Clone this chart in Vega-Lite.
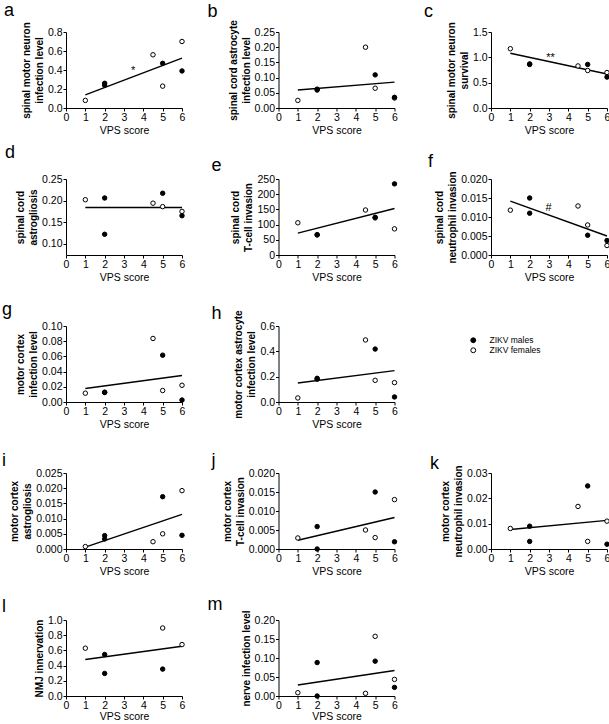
{
  "$schema": "https://vega.github.io/schema/vega-lite/v6.json",
  "padding": {"left": 2, "top": 1, "right": 0, "bottom": 0},
  "background": "white",
  "columns": 3,
  "spacing": {"row": 71, "column": 96.5},
  "bounds": "flush",
  "resolve": {"scale": {"fill": "independent"}, "legend": {"fill": "independent"}},
  "datasets": {
    "pts": [
      {"panel": "a", "vps": 1, "value": 0.08, "sex": "ZIKV females"},
      {"panel": "a", "vps": 4.5, "value": 0.56, "sex": "ZIKV females"},
      {"panel": "a", "vps": 5, "value": 0.23, "sex": "ZIKV females"},
      {"panel": "a", "vps": 6, "value": 0.70, "sex": "ZIKV females"},
      {"panel": "a", "vps": 2, "value": 0.26, "sex": "ZIKV males"},
      {"panel": "a", "vps": 2, "value": 0.24, "sex": "ZIKV males"},
      {"panel": "a", "vps": 5, "value": 0.47, "sex": "ZIKV males"},
      {"panel": "a", "vps": 6, "value": 0.39, "sex": "ZIKV males"},
      {"panel": "b", "vps": 1, "value": 0.025, "sex": "ZIKV females"},
      {"panel": "b", "vps": 4.5, "value": 0.20, "sex": "ZIKV females"},
      {"panel": "b", "vps": 5, "value": 0.065, "sex": "ZIKV females"},
      {"panel": "b", "vps": 6, "value": 0.033, "sex": "ZIKV females"},
      {"panel": "b", "vps": 2, "value": 0.062, "sex": "ZIKV males"},
      {"panel": "b", "vps": 2, "value": 0.059, "sex": "ZIKV males"},
      {"panel": "b", "vps": 5, "value": 0.109, "sex": "ZIKV males"},
      {"panel": "b", "vps": 6, "value": 0.035, "sex": "ZIKV males"},
      {"panel": "c", "vps": 1, "value": 1.17, "sex": "ZIKV females"},
      {"panel": "c", "vps": 4.5, "value": 0.83, "sex": "ZIKV females"},
      {"panel": "c", "vps": 5, "value": 0.74, "sex": "ZIKV females"},
      {"panel": "c", "vps": 6, "value": 0.70, "sex": "ZIKV females"},
      {"panel": "c", "vps": 2, "value": 0.87, "sex": "ZIKV males"},
      {"panel": "c", "vps": 2, "value": 0.86, "sex": "ZIKV males"},
      {"panel": "c", "vps": 5, "value": 0.86, "sex": "ZIKV males"},
      {"panel": "c", "vps": 6, "value": 0.61, "sex": "ZIKV males"},
      {"panel": "d", "vps": 1, "value": 0.202, "sex": "ZIKV females"},
      {"panel": "d", "vps": 4.5, "value": 0.194, "sex": "ZIKV females"},
      {"panel": "d", "vps": 5, "value": 0.186, "sex": "ZIKV females"},
      {"panel": "d", "vps": 6, "value": 0.175, "sex": "ZIKV females"},
      {"panel": "d", "vps": 2, "value": 0.206, "sex": "ZIKV males"},
      {"panel": "d", "vps": 2, "value": 0.122, "sex": "ZIKV males"},
      {"panel": "d", "vps": 5, "value": 0.217, "sex": "ZIKV males"},
      {"panel": "d", "vps": 6, "value": 0.165, "sex": "ZIKV males"},
      {"panel": "e", "vps": 1, "value": 106, "sex": "ZIKV females"},
      {"panel": "e", "vps": 4.5, "value": 148, "sex": "ZIKV females"},
      {"panel": "e", "vps": 5, "value": 122, "sex": "ZIKV females"},
      {"panel": "e", "vps": 6, "value": 86, "sex": "ZIKV females"},
      {"panel": "e", "vps": 2, "value": 67, "sex": "ZIKV males"},
      {"panel": "e", "vps": 2, "value": 66, "sex": "ZIKV males"},
      {"panel": "e", "vps": 5, "value": 124, "sex": "ZIKV males"},
      {"panel": "e", "vps": 6, "value": 234, "sex": "ZIKV males"},
      {"panel": "f", "vps": 1, "value": 0.0118, "sex": "ZIKV females"},
      {"panel": "f", "vps": 4.5, "value": 0.0129, "sex": "ZIKV females"},
      {"panel": "f", "vps": 5, "value": 0.0079, "sex": "ZIKV females"},
      {"panel": "f", "vps": 6, "value": 0.0025, "sex": "ZIKV females"},
      {"panel": "f", "vps": 2, "value": 0.0150, "sex": "ZIKV males"},
      {"panel": "f", "vps": 2, "value": 0.0110, "sex": "ZIKV males"},
      {"panel": "f", "vps": 5, "value": 0.0052, "sex": "ZIKV males"},
      {"panel": "f", "vps": 6, "value": 0.0038, "sex": "ZIKV males"},
      {"panel": "g", "vps": 1, "value": 0.0116, "sex": "ZIKV females"},
      {"panel": "g", "vps": 4.5, "value": 0.0836, "sex": "ZIKV females"},
      {"panel": "g", "vps": 5, "value": 0.0151, "sex": "ZIKV females"},
      {"panel": "g", "vps": 6, "value": 0.022, "sex": "ZIKV females"},
      {"panel": "g", "vps": 2, "value": 0.0129, "sex": "ZIKV males"},
      {"panel": "g", "vps": 2, "value": 0.0125, "sex": "ZIKV males"},
      {"panel": "g", "vps": 5, "value": 0.0616, "sex": "ZIKV males"},
      {"panel": "g", "vps": 6, "value": 0.0026, "sex": "ZIKV males"},
      {"panel": "h", "vps": 1, "value": 0.032, "sex": "ZIKV females"},
      {"panel": "h", "vps": 4.5, "value": 0.49, "sex": "ZIKV females"},
      {"panel": "h", "vps": 5, "value": 0.171, "sex": "ZIKV females"},
      {"panel": "h", "vps": 6, "value": 0.153, "sex": "ZIKV females"},
      {"panel": "h", "vps": 2, "value": 0.187, "sex": "ZIKV males"},
      {"panel": "h", "vps": 2, "value": 0.18, "sex": "ZIKV males"},
      {"panel": "h", "vps": 5, "value": 0.418, "sex": "ZIKV males"},
      {"panel": "h", "vps": 6, "value": 0.04, "sex": "ZIKV males"},
      {"panel": "i", "vps": 1, "value": 0.0008, "sex": "ZIKV females"},
      {"panel": "i", "vps": 4.5, "value": 0.0024, "sex": "ZIKV females"},
      {"panel": "i", "vps": 5, "value": 0.0050, "sex": "ZIKV females"},
      {"panel": "i", "vps": 6, "value": 0.0192, "sex": "ZIKV females"},
      {"panel": "i", "vps": 2, "value": 0.0044, "sex": "ZIKV males"},
      {"panel": "i", "vps": 2, "value": 0.0033, "sex": "ZIKV males"},
      {"panel": "i", "vps": 5, "value": 0.0172, "sex": "ZIKV males"},
      {"panel": "i", "vps": 6, "value": 0.0045, "sex": "ZIKV males"},
      {"panel": "j", "vps": 1, "value": 0.0029, "sex": "ZIKV females"},
      {"panel": "j", "vps": 4.5, "value": 0.0050, "sex": "ZIKV females"},
      {"panel": "j", "vps": 5, "value": 0.0030, "sex": "ZIKV females"},
      {"panel": "j", "vps": 6, "value": 0.0130, "sex": "ZIKV females"},
      {"panel": "j", "vps": 2, "value": 0.0059, "sex": "ZIKV males"},
      {"panel": "j", "vps": 2, "value": 0.0000, "sex": "ZIKV males"},
      {"panel": "j", "vps": 5, "value": 0.0150, "sex": "ZIKV males"},
      {"panel": "j", "vps": 6, "value": 0.0019, "sex": "ZIKV males"},
      {"panel": "k", "vps": 1, "value": 0.0081, "sex": "ZIKV females"},
      {"panel": "k", "vps": 4.5, "value": 0.0168, "sex": "ZIKV females"},
      {"panel": "k", "vps": 5, "value": 0.0030, "sex": "ZIKV females"},
      {"panel": "k", "vps": 6, "value": 0.0110, "sex": "ZIKV females"},
      {"panel": "k", "vps": 2, "value": 0.0090, "sex": "ZIKV males"},
      {"panel": "k", "vps": 2, "value": 0.0030, "sex": "ZIKV males"},
      {"panel": "k", "vps": 5, "value": 0.0249, "sex": "ZIKV males"},
      {"panel": "k", "vps": 6, "value": 0.0019, "sex": "ZIKV males"},
      {"panel": "l", "vps": 1, "value": 0.629, "sex": "ZIKV females"},
      {"panel": "l", "vps": 5, "value": 0.895, "sex": "ZIKV females"},
      {"panel": "l", "vps": 6, "value": 0.677, "sex": "ZIKV females"},
      {"panel": "l", "vps": 2, "value": 0.546, "sex": "ZIKV males"},
      {"panel": "l", "vps": 2, "value": 0.297, "sex": "ZIKV males"},
      {"panel": "l", "vps": 5, "value": 0.354, "sex": "ZIKV males"},
      {"panel": "m", "vps": 1, "value": 0.0087, "sex": "ZIKV females"},
      {"panel": "m", "vps": 4.5, "value": 0.007, "sex": "ZIKV females"},
      {"panel": "m", "vps": 5, "value": 0.157, "sex": "ZIKV females"},
      {"panel": "m", "vps": 6, "value": 0.0437, "sex": "ZIKV females"},
      {"panel": "m", "vps": 2, "value": 0.088, "sex": "ZIKV males"},
      {"panel": "m", "vps": 2, "value": 0.0, "sex": "ZIKV males"},
      {"panel": "m", "vps": 5, "value": 0.0917, "sex": "ZIKV males"},
      {"panel": "m", "vps": 6, "value": 0.0227, "sex": "ZIKV males"}
    ],
    "fits": [
      {"panel": "a", "vps": 1, "value": 0.139}, {"panel": "a", "vps": 6, "value": 0.525},
      {"panel": "b", "vps": 1, "value": 0.059}, {"panel": "b", "vps": 6, "value": 0.085},
      {"panel": "c", "vps": 1, "value": 1.08}, {"panel": "c", "vps": 6, "value": 0.672},
      {"panel": "d", "vps": 1, "value": 0.184}, {"panel": "d", "vps": 6, "value": 0.184},
      {"panel": "e", "vps": 1, "value": 72}, {"panel": "e", "vps": 6, "value": 153},
      {"panel": "f", "vps": 1, "value": 0.0142}, {"panel": "f", "vps": 6, "value": 0.0050},
      {"panel": "g", "vps": 1, "value": 0.0177}, {"panel": "g", "vps": 6, "value": 0.0349},
      {"panel": "h", "vps": 1, "value": 0.15}, {"panel": "h", "vps": 6, "value": 0.248},
      {"panel": "i", "vps": 1, "value": 0.0006}, {"panel": "i", "vps": 6, "value": 0.0114},
      {"panel": "j", "vps": 1, "value": 0.0023}, {"panel": "j", "vps": 6, "value": 0.0083},
      {"panel": "k", "vps": 1, "value": 0.0077}, {"panel": "k", "vps": 6, "value": 0.0113},
      {"panel": "l", "vps": 1, "value": 0.48}, {"panel": "l", "vps": 6, "value": 0.655},
      {"panel": "m", "vps": 1, "value": 0.0288}, {"panel": "m", "vps": 6, "value": 0.067}
    ],
    "notes": [
      {"panel": "a", "vps": 3.47, "value": 0.39, "label": "*"},
      {"panel": "c", "vps": 3.08, "value": 0.98, "label": "**"},
      {"panel": "f", "vps": 2.98, "value": 0.0124, "label": "#"}
    ]
  },
  "config": {
    "font": "Liberation Sans",
    "view": {"stroke": null},
    "axis": {"grid": false, "domainColor": "black", "tickColor": "black", "labelColor": "black", "titleColor": "black", "labelFontSize": 10.5, "titleFontSize": 10, "tickSize": 3, "labelPadding": 1, "domainWidth": 1, "tickWidth": 1, "labelFlush": false, "labelOverlap": false, "labelFont": "Liberation Sans", "titleFont": "Liberation Sans"},
    "axisX": {"titleFontWeight": "normal", "titleFontSize": 10.5, "labelAngle": 0, "titlePadding": 3},
    "axisY": {"titleFontWeight": "bold", "titleLineHeight": 13, "titlePadding": 3},
    "title": {"anchor": "start", "fontSize": 18, "fontWeight": "normal", "frame": "group", "baseline": "alphabetic", "color": "black", "font": "Liberation Sans"},
    "circle": {"size": 20, "stroke": "black", "strokeWidth": 1, "opacity": 1},
    "line": {"color": "black", "strokeWidth": 1.4}
  },
  "concat": [
    {
      "title": {"text": "a", "dx": -62, "offset": 1.7},
      "width": 116, "height": 76,
      "encoding": {
        "x": {"field": "vps", "type": "quantitative", "scale": {"domain": [0, 6]}, "axis": {"title": "VPS score", "values": [0, 1, 2, 3, 4, 5, 6]}},
        "y": {"field": "value", "type": "quantitative", "scale": {"domain": [0, 0.8]}, "axis": {"title": ["spinal motor neuron", "infection level"], "values": [0, 0.2, 0.4, 0.6, 0.8], "format": ".1f"}}
      },
      "layer": [
        {"data": {"name": "fits"}, "transform": [{"filter": "datum.panel === 'a'"}], "mark": "line"},
        {"data": {"name": "pts"}, "transform": [{"filter": "datum.panel === 'a'"}], "mark": "circle", "encoding": {"fill": {"field": "sex", "type": "nominal", "scale": {"domain": ["ZIKV males", "ZIKV females"], "range": ["black", "white"]}, "legend": null}}},
        {"data": {"name": "notes"}, "transform": [{"filter": "datum.panel === 'a'"}], "mark": {"type": "text", "fill": "black", "fontSize": 11, "baseline": "middle", "align": "center"}, "encoding": {"text": {"field": "label"}}}
      ]
    },
    {
      "title": {"text": "b", "dx": -71, "offset": -1.3},
      "width": 116, "height": 76,
      "encoding": {
        "x": {"field": "vps", "type": "quantitative", "scale": {"domain": [0, 6]}, "axis": {"title": "VPS score", "values": [0, 1, 2, 3, 4, 5, 6]}},
        "y": {"field": "value", "type": "quantitative", "scale": {"domain": [0, 0.25]}, "axis": {"title": ["spinal cord astrocyte", "infection level"], "values": [0, 0.05, 0.1, 0.15, 0.2, 0.25], "format": ".2f"}}
      },
      "layer": [
        {"data": {"name": "fits"}, "transform": [{"filter": "datum.panel === 'b'"}], "mark": "line"},
        {"data": {"name": "pts"}, "transform": [{"filter": "datum.panel === 'b'"}], "mark": "circle", "encoding": {"fill": {"field": "sex", "type": "nominal", "scale": {"domain": ["ZIKV males", "ZIKV females"], "range": ["black", "white"]}, "legend": null}}}
      ]
    },
    {
      "title": {"text": "c", "dx": -67, "offset": 0.7},
      "width": 116, "height": 76,
      "encoding": {
        "x": {"field": "vps", "type": "quantitative", "scale": {"domain": [0, 6]}, "axis": {"title": "VPS score", "values": [0, 1, 2, 3, 4, 5, 6]}},
        "y": {"field": "value", "type": "quantitative", "scale": {"domain": [0, 1.5]}, "axis": {"title": ["spinal motor neuron", "survival"], "values": [0, 0.5, 1, 1.5], "format": ".1f"}}
      },
      "layer": [
        {"data": {"name": "fits"}, "transform": [{"filter": "datum.panel === 'c'"}], "mark": "line"},
        {"data": {"name": "pts"}, "transform": [{"filter": "datum.panel === 'c'"}], "mark": "circle", "encoding": {"fill": {"field": "sex", "type": "nominal", "scale": {"domain": ["ZIKV males", "ZIKV females"], "range": ["black", "white"]}, "legend": null}}},
        {"data": {"name": "notes"}, "transform": [{"filter": "datum.panel === 'c'"}], "mark": {"type": "text", "fill": "black", "fontSize": 11, "baseline": "middle", "align": "center"}, "encoding": {"text": {"field": "label"}}}
      ]
    },
    {
      "title": {"text": "d", "dx": -61, "offset": 12.5},
      "width": 116, "height": 76,
      "encoding": {
        "x": {"field": "vps", "type": "quantitative", "scale": {"domain": [0, 6]}, "axis": {"title": "VPS score", "values": [0, 1, 2, 3, 4, 5, 6]}},
        "y": {"field": "value", "type": "quantitative", "scale": {"domain": [0.074, 0.25], "zero": false}, "axis": {"title": ["spinal cord", "astrogliosis"], "values": [0.1, 0.15, 0.2, 0.25], "format": ".2f"}}
      },
      "layer": [
        {"data": {"name": "fits"}, "transform": [{"filter": "datum.panel === 'd'"}], "mark": "line"},
        {"data": {"name": "pts"}, "transform": [{"filter": "datum.panel === 'd'"}], "mark": "circle", "encoding": {"fill": {"field": "sex", "type": "nominal", "scale": {"domain": ["ZIKV males", "ZIKV females"], "range": ["black", "white"]}, "legend": null}}}
      ]
    },
    {
      "title": {"text": "e", "dx": -67, "offset": -0.5},
      "width": 116, "height": 76,
      "encoding": {
        "x": {"field": "vps", "type": "quantitative", "scale": {"domain": [0, 6]}, "axis": {"title": "VPS score", "values": [0, 1, 2, 3, 4, 5, 6]}},
        "y": {"field": "value", "type": "quantitative", "scale": {"domain": [0, 250]}, "axis": {"title": ["spinal cord", "T-cell invasion"], "values": [0, 50, 100, 150, 200, 250], "format": "d"}}
      },
      "layer": [
        {"data": {"name": "fits"}, "transform": [{"filter": "datum.panel === 'e'"}], "mark": "line"},
        {"data": {"name": "pts"}, "transform": [{"filter": "datum.panel === 'e'"}], "mark": "circle", "encoding": {"fill": {"field": "sex", "type": "nominal", "scale": {"domain": ["ZIKV males", "ZIKV females"], "range": ["black", "white"]}, "legend": null}}}
      ]
    },
    {
      "title": {"text": "f", "dx": -63, "offset": -0.5},
      "width": 116, "height": 76,
      "encoding": {
        "x": {"field": "vps", "type": "quantitative", "scale": {"domain": [0, 6]}, "axis": {"title": "VPS score", "values": [0, 1, 2, 3, 4, 5, 6]}},
        "y": {"field": "value", "type": "quantitative", "scale": {"domain": [0, 0.02]}, "axis": {"title": ["spinal cord", "neutrophil invasion"], "values": [0, 0.005, 0.01, 0.015, 0.02], "format": ".3f"}}
      },
      "layer": [
        {"data": {"name": "fits"}, "transform": [{"filter": "datum.panel === 'f'"}], "mark": "line"},
        {"data": {"name": "pts"}, "transform": [{"filter": "datum.panel === 'f'"}], "mark": "circle", "encoding": {"fill": {"field": "sex", "type": "nominal", "scale": {"domain": ["ZIKV males", "ZIKV females"], "range": ["black", "white"]}, "legend": null}}},
        {"data": {"name": "notes"}, "transform": [{"filter": "datum.panel === 'f'"}], "mark": {"type": "text", "fill": "black", "fontSize": 11, "baseline": "middle", "align": "center"}, "encoding": {"text": {"field": "label"}}}
      ]
    },
    {
      "title": {"text": "g", "dx": -64, "offset": 2.5},
      "width": 116, "height": 76,
      "encoding": {
        "x": {"field": "vps", "type": "quantitative", "scale": {"domain": [0, 6]}, "axis": {"title": "VPS score", "values": [0, 1, 2, 3, 4, 5, 6]}},
        "y": {"field": "value", "type": "quantitative", "scale": {"domain": [0, 0.1]}, "axis": {"title": ["motor cortex", "infection level"], "values": [0, 0.02, 0.04, 0.06, 0.08, 0.1], "format": ".2f"}}
      },
      "layer": [
        {"data": {"name": "fits"}, "transform": [{"filter": "datum.panel === 'g'"}], "mark": "line"},
        {"data": {"name": "pts"}, "transform": [{"filter": "datum.panel === 'g'"}], "mark": "circle", "encoding": {"fill": {"field": "sex", "type": "nominal", "scale": {"domain": ["ZIKV males", "ZIKV females"], "range": ["black", "white"]}, "legend": null}}}
      ]
    },
    {
      "title": {"text": "h", "dx": -67, "offset": -13},
      "width": 116, "height": 76,
      "encoding": {
        "x": {"field": "vps", "type": "quantitative", "scale": {"domain": [0, 6]}, "axis": {"title": "VPS score", "values": [0, 1, 2, 3, 4, 5, 6]}},
        "y": {"field": "value", "type": "quantitative", "scale": {"domain": [0, 0.6]}, "axis": {"title": ["motor cortex astrocyte", "infection level"], "values": [0, 0.2, 0.4, 0.6], "format": ".1f"}}
      },
      "layer": [
        {"data": {"name": "fits"}, "transform": [{"filter": "datum.panel === 'h'"}], "mark": "line"},
        {"data": {"name": "pts"}, "transform": [{"filter": "datum.panel === 'h'"}], "mark": "circle", "encoding": {"fill": {"field": "sex", "type": "nominal", "scale": {"domain": ["ZIKV males", "ZIKV females"], "range": ["black", "white"]}, "legend": null}}}
      ]
    },
    {
      "width": 116, "height": 76,
      "data": {"values": []},
      "mark": "circle",
      "encoding": {
        "fill": {"field": "sex", "type": "nominal", "scale": {"domain": ["ZIKV males", "ZIKV females"], "range": ["black", "white"]},
          "legend": {"orient": "none", "legendX": -22, "legendY": 10, "title": null, "symbolType": "circle", "symbolSize": 24, "symbolStrokeColor": "black", "symbolStrokeWidth": 1, "labelFontSize": 8.5, "labelOffset": 12, "rowPadding": 0, "padding": 0, "labelFont": "Liberation Sans", "labelColor": "black"}}
      }
    },
    {
      "title": {"text": "i", "dx": -64, "offset": -2.2},
      "width": 116, "height": 76,
      "encoding": {
        "x": {"field": "vps", "type": "quantitative", "scale": {"domain": [0, 6]}, "axis": {"title": "VPS score", "values": [0, 1, 2, 3, 4, 5, 6]}},
        "y": {"field": "value", "type": "quantitative", "scale": {"domain": [0, 0.025]}, "axis": {"title": ["motor cortex", "astrogliosis"], "values": [0, 0.005, 0.01, 0.015, 0.02, 0.025], "format": ".3f"}}
      },
      "layer": [
        {"data": {"name": "fits"}, "transform": [{"filter": "datum.panel === 'i'"}], "mark": "line"},
        {"data": {"name": "pts"}, "transform": [{"filter": "datum.panel === 'i'"}], "mark": "circle", "encoding": {"fill": {"field": "sex", "type": "nominal", "scale": {"domain": ["ZIKV males", "ZIKV females"], "range": ["black", "white"]}, "legend": null}}}
      ]
    },
    {
      "title": {"text": "j", "dx": -67, "offset": -2.2},
      "width": 116, "height": 76,
      "encoding": {
        "x": {"field": "vps", "type": "quantitative", "scale": {"domain": [0, 6]}, "axis": {"title": "VPS score", "values": [0, 1, 2, 3, 4, 5, 6]}},
        "y": {"field": "value", "type": "quantitative", "scale": {"domain": [0, 0.02]}, "axis": {"title": ["motor cortex", "T-cell invasion"], "values": [0, 0.005, 0.01, 0.015, 0.02], "format": ".3f"}}
      },
      "layer": [
        {"data": {"name": "fits"}, "transform": [{"filter": "datum.panel === 'j'"}], "mark": "line"},
        {"data": {"name": "pts"}, "transform": [{"filter": "datum.panel === 'j'"}], "mark": "circle", "encoding": {"fill": {"field": "sex", "type": "nominal", "scale": {"domain": ["ZIKV males", "ZIKV females"], "range": ["black", "white"]}, "legend": null}}}
      ]
    },
    {
      "title": {"text": "k", "dx": -61, "offset": -8.5},
      "width": 116, "height": 76,
      "encoding": {
        "x": {"field": "vps", "type": "quantitative", "scale": {"domain": [0, 6]}, "axis": {"title": "VPS score", "values": [0, 1, 2, 3, 4, 5, 6]}},
        "y": {"field": "value", "type": "quantitative", "scale": {"domain": [0, 0.03]}, "axis": {"title": ["motor cortex", "neutrophil invasion"], "values": [0, 0.01, 0.02, 0.03], "format": ".2f"}}
      },
      "layer": [
        {"data": {"name": "fits"}, "transform": [{"filter": "datum.panel === 'k'"}], "mark": "line"},
        {"data": {"name": "pts"}, "transform": [{"filter": "datum.panel === 'k'"}], "mark": "circle", "encoding": {"fill": {"field": "sex", "type": "nominal", "scale": {"domain": ["ZIKV males", "ZIKV females"], "range": ["black", "white"]}, "legend": null}}}
      ]
    },
    {
      "title": {"text": "l", "dx": -64, "offset": -1.2},
      "width": 116, "height": 76,
      "encoding": {
        "x": {"field": "vps", "type": "quantitative", "scale": {"domain": [0, 6]}, "axis": {"title": "VPS score", "values": [0, 1, 2, 3, 4, 5, 6], "titlePadding": 1}},
        "y": {"field": "value", "type": "quantitative", "scale": {"domain": [0, 1]}, "axis": {"title": "NMJ innervation", "values": [0, 0.2, 0.4, 0.6, 0.8, 1], "format": ".1f"}}
      },
      "layer": [
        {"data": {"name": "fits"}, "transform": [{"filter": "datum.panel === 'l'"}], "mark": "line"},
        {"data": {"name": "pts"}, "transform": [{"filter": "datum.panel === 'l'"}], "mark": "circle", "encoding": {"fill": {"field": "sex", "type": "nominal", "scale": {"domain": ["ZIKV males", "ZIKV females"], "range": ["black", "white"]}, "legend": null}}}
      ]
    },
    {
      "title": {"text": "m", "dx": -71, "offset": -4.1},
      "width": 116, "height": 76,
      "encoding": {
        "x": {"field": "vps", "type": "quantitative", "scale": {"domain": [0, 6]}, "axis": {"title": "VPS score", "values": [0, 1, 2, 3, 4, 5, 6], "titlePadding": 1}},
        "y": {"field": "value", "type": "quantitative", "scale": {"domain": [0, 0.2]}, "axis": {"title": "nerve infection level", "values": [0, 0.05, 0.1, 0.15, 0.2], "format": ".2f"}}
      },
      "layer": [
        {"data": {"name": "fits"}, "transform": [{"filter": "datum.panel === 'm'"}], "mark": "line"},
        {"data": {"name": "pts"}, "transform": [{"filter": "datum.panel === 'm'"}], "mark": "circle", "encoding": {"fill": {"field": "sex", "type": "nominal", "scale": {"domain": ["ZIKV males", "ZIKV females"], "range": ["black", "white"]}, "legend": null}}}
      ]
    }
  ]
}
